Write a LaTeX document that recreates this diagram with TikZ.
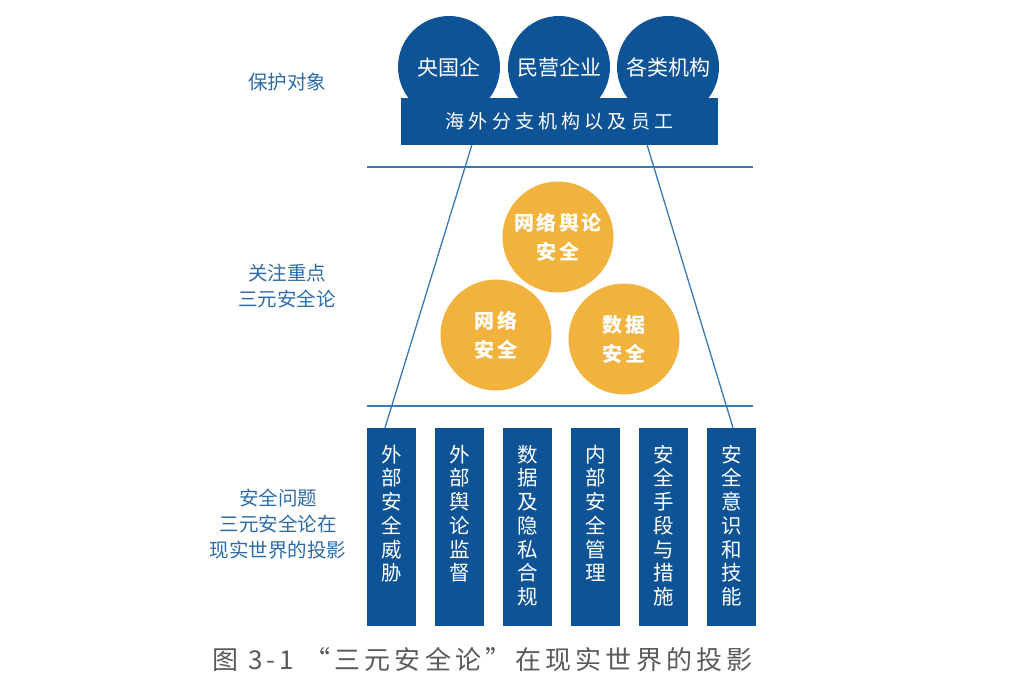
\documentclass[tikz,border=0pt]{standalone}
\usepackage{fontspec}
\setmainfont{Noto Sans CJK SC}
\newfontfamily\cjkwide[LetterSpace=22]{Noto Sans CJK SC}
\newfontfamily\cjkmid[LetterSpace=12]{Noto Sans CJK SC}
\newfontfamily\cjkcap[LetterSpace=16]{Noto Sans CJK SC}
\definecolor{navy}{HTML}{0E5396}
\definecolor{gold}{HTML}{F1B33E}
\definecolor{lineblue}{HTML}{3C78B4}
\definecolor{labelblue}{HTML}{2D6BA6}
\definecolor{capgray}{HTML}{5A5A5A}
\begin{document}
\begin{tikzpicture}[x=1pt,y=-1pt,
  topcirc/.style={circle,fill=navy,minimum size=102pt,inner sep=0pt,text=white,font=\fontsize{21}{24}\selectfont},
  toprect/.style={rectangle,fill=navy,minimum width=317pt,minimum height=47pt,inner sep=0pt,text=white,font=\cjkwide\fontsize{19}{22}\selectfont},
  goldcirc/.style={circle,fill=gold,minimum size=111pt,inner sep=0pt,text=white,align=center,font=\cjkmid\bfseries\fontsize{20}{29}\selectfont},
  vbox/.style={rectangle,fill=navy,minimum width=49pt,minimum height=198pt,inner sep=0pt},
  vtext/.style={anchor=north,text=white,align=center,inner sep=0pt,font=\fontsize{20.5}{23.7}\selectfont},
  sidelabel/.style={text=labelblue,align=center,inner sep=0pt,font=\fontsize{19.5}{26}\selectfont},
  conn/.style={draw=lineblue,line width=1.3pt},
]
\useasboundingbox (0,0) rectangle (1014,686);
% protected objects
\node[topcirc] (c1) at (449,67) {央国企};
\node[topcirc] (c2) at (559,67) {民营企业};
\node[topcirc] (c3) at (668,67) {各类机构};
\node[toprect] (r) at (559.5,121.5) {海外分支机构以及员工};
% separators
\coordinate (h1l) at (367,167);
\coordinate (h1r) at (753,167);
\coordinate (h2l) at (367,406);
\coordinate (h2r) at (753,406);
\draw[conn] (h1l) -- (h1r);
\draw[conn] (h2l) -- (h2r);
% gold circles
\node[goldcirc] (g1) at (558,237) {网络舆论\\安全};
\node[goldcirc] (g2) at (496,335) {网络\\安全};
\node[goldcirc] (g3) at (624,339) {数据\\安全};
% bottom boxes
\node[vbox] (b1) at (391.5,527) {};
\node[vbox] (b2) at (459.5,527) {};
\node[vbox] (b3) at (527.5,527) {};
\node[vbox] (b4) at (595.5,527) {};
\node[vbox] (b5) at (663.5,527) {};
\node[vbox] (b6) at (731.5,527) {};
\node[vtext] (t1) at ([yshift=-17pt]b1.north) {外\\部\\安\\全\\威\\胁};
\node[vtext] (t2) at ([yshift=-17pt]b2.north) {外\\部\\舆\\论\\监\\督};
\node[vtext] (t3) at ([yshift=-17pt]b3.north) {数\\据\\及\\隐\\私\\合\\规};
\node[vtext] (t4) at ([yshift=-17pt]b4.north) {内\\部\\安\\全\\管\\理};
\node[vtext] (t5) at ([yshift=-17pt]b5.north) {安\\全\\手\\段\\与\\措\\施};
\node[vtext] (t6) at ([yshift=-17pt]b6.north) {安\\全\\意\\识\\和\\技\\能};
% trapezoid
\draw[conn] ([xshift=71pt]r.south west) -- ([xshift=-6.5pt]b1.north);
\draw[conn] ([xshift=-71pt]r.south east) -- ([xshift=1.5pt]b6.north);
% side labels
\node[sidelabel] (l1) at (287,82) {保护对象};
\node[sidelabel] (l2) at (287,286) {关注重点\\三元安全论};
\node[sidelabel] (l3) at (278,524) {安全问题\\三元安全论在\\现实世界的投影};
% caption
\node[text=capgray,anchor=west,inner sep=0pt,font=\cjkcap\fontsize{26}{30}\selectfont] (cap) at (212,660) {图 3-1 “三元安全论”在现实世界的投影};
\end{tikzpicture}
\end{document}
